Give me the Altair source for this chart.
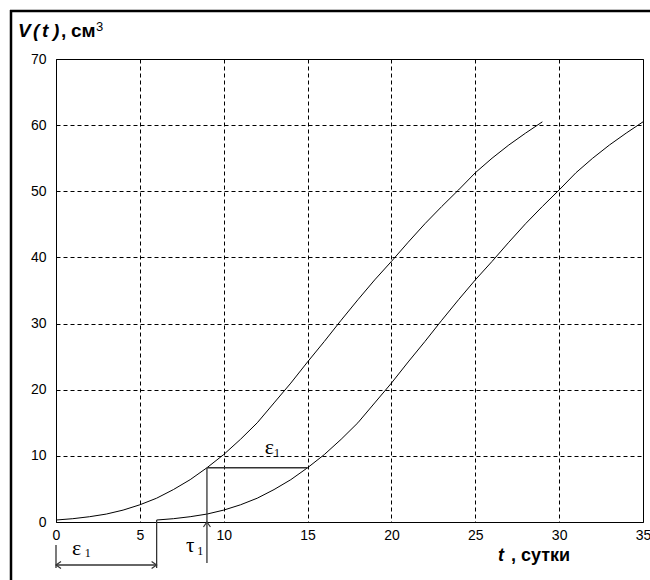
import altair as alt
import pandas as pd

# ---------------- data ----------------
t1 = list(range(0, 30))
v1 = [0.3, 0.5, 0.8, 1.2, 1.8, 2.6, 3.6, 4.9, 6.4, 8.2,
      10.2, 12.5, 15.0, 18.0, 21.0, 24.2, 27.3, 30.5, 33.6, 36.6,
      39.4, 42.3, 45.1, 47.7, 50.2, 52.8, 55.0, 57.0, 58.8, 60.5]
t2 = list(range(6, 36))
v2 = [0.3, 0.5, 0.8, 1.2, 1.8, 2.6, 3.6, 4.9, 6.4, 8.2,
      10.2, 12.5, 15.0, 18.0, 21.0, 24.2, 27.3, 30.5, 33.6, 36.6,
      39.4, 42.3, 45.1, 47.7, 50.2, 52.8, 55.0, 57.0, 58.8, 60.5]
x_ticks = [0, 5, 10, 15, 20, 25, 30, 35]
y_ticks = [0, 10, 20, 30, 40, 50, 60, 70]
eps = 6        # ε1 shift
tau = 9        # τ1
v_star = 8.2   # level of the ε1 segment

# ---------------- layout / style ----------------
W, H = 587, 463
SANS = "Liberation Sans"
SERIF = "Liberation Serif"
ANN = "#333333"

xs = alt.Scale(domain=[0, 35], nice=False, zero=False)
ys = alt.Scale(domain=[0, 70], nice=False, zero=False)

xaxis = alt.Axis(values=x_ticks, title=None, grid=True, gridColor="black",
                 gridDash=[4, 3], gridOpacity=1, gridWidth=1, ticks=False,
                 domain=False, labelFlush=False, labelFont=SANS,
                 labelFontSize=14, labelColor="black", labelPadding=6)
yaxis = alt.Axis(values=y_ticks, title=None, grid=True, gridColor="black",
                 gridDash=[4, 3], gridOpacity=1, gridWidth=1, ticks=False,
                 domain=False, labelFont=SANS, labelFontSize=14,
                 labelColor="black", labelPadding=10)


def X(field="t"):
    return alt.X(f"{field}:Q", scale=xs, axis=xaxis)


def Y(field="V"):
    return alt.Y(f"{field}:Q", scale=ys, axis=yaxis)


curves = pd.concat([
    pd.DataFrame({"t": t1, "V": v1, "c": "1"}),
    pd.DataFrame({"t": t2, "V": v2, "c": "2"}),
])

lines = alt.Chart(curves).mark_line(color="black", strokeWidth=1).encode(
    x=X(), y=Y(), detail="c:N")

# horizontal ε1 segment at the level v_star between tau and tau+eps
seg = alt.Chart(pd.DataFrame({"t": [tau], "t2": [tau + eps], "V": [v_star]})).mark_rule(
    color=ANN, strokeWidth=1.5).encode(x=X(), x2="t2:Q", y=Y())

# vertical line at tau down below the axis
vtau = alt.Chart(pd.DataFrame({"t": [tau], "V": [v_star]})).mark_rule(
    color=ANN, strokeWidth=1.3).encode(x=X(), y=Y(), y2=alt.value(504))

# vertical line at eps (start of second curve) down below the axis
veps = alt.Chart(pd.DataFrame({"t": [eps], "V": [v2[0]]})).mark_rule(
    color=ANN, strokeWidth=1.3).encode(x=X(), y=Y(), y2=alt.value(509))

# vertical line at 0 below the tick label
v0 = alt.Chart(pd.DataFrame({"t": [0]})).mark_rule(
    color=ANN, strokeWidth=1.3).encode(x=X(), y=alt.value(486), y2=alt.value(509))

# horizontal double arrow 0..eps
harrow = alt.Chart(pd.DataFrame({"t": [0], "t2": [eps]})).mark_rule(
    color=ANN, strokeWidth=1.3).encode(x=X(), x2="t2:Q", y=alt.value(506))

head_l = alt.Chart(pd.DataFrame({"t": [0]})).mark_point(
    shape="M1,-0.7L0,0L1,0.7", size=100, filled=False, color=ANN,
    strokeWidth=1.2, opacity=1).encode(x=X(), y=alt.value(506))
head_r = alt.Chart(pd.DataFrame({"t": [eps]})).mark_point(
    shape="M-1,-0.7L0,0L-1,0.7", size=100, filled=False, color=ANN,
    strokeWidth=1.2, opacity=1).encode(x=X(), y=alt.value(506))
head_u = alt.Chart(pd.DataFrame({"t": [tau], "V": [0]})).mark_point(
    shape="M-0.7,1L0,0L0.7,1", size=100, filled=False, color=ANN,
    strokeWidth=1.2, opacity=1).encode(x=X(), y=Y())


def txt_data(label, t, V=None, ypx=None, size=20, font=SERIF, style="normal",
             weight="normal"):
    d = {"t": [t], "label": [label]}
    enc = {"x": X(), "text": "label:N"}
    if V is not None:
        d["V"] = [V]
        enc["y"] = Y()
    else:
        enc["y"] = alt.value(ypx)
    return alt.Chart(pd.DataFrame(d)).mark_text(
        align="left", baseline="alphabetic", font=font, fontSize=size,
        fontStyle=style, fontWeight=weight, color="black").encode(**enc)


ann_text = [
    txt_data("ε", 12.45, V=10.3, size=22),
    txt_data("1", 13.0, V=9.8, size=12),
    txt_data("ε", 0.95, ypx=496, size=22),
    txt_data("1", 1.72, ypx=498, size=12),
    txt_data("τ", 7.75, ypx=493, size=21),
    txt_data("1", 8.42, ypx=496, size=12),
]


def txt_px(label, xpx, ypx, size=19, style="normal", weight="bold"):
    return alt.Chart(pd.DataFrame({"label": [label]})).mark_text(
        align="left", baseline="alphabetic", font=SANS, fontSize=size,
        fontStyle=style, fontWeight=weight, color="black").encode(
        x=alt.value(xpx), y=alt.value(ypx), text="label:N")


titles = [
    txt_px("V", -38, -22, style="italic"),
    txt_px("(", -23, -22, style="italic"),
    txt_px("t", -14, -22, style="italic"),
    txt_px(")", -3, -22, style="italic"),
    txt_px(",", 5, -22),
    txt_px("см", 15, -22),
    txt_px("3", 40, -28, size=13, weight="normal"),
    txt_px("t", 442, 502, size=18, style="italic"),
    txt_px(", сутки", 455, 502, size=18),
]

# outer frame (top and left edges visible in the crop)
frame_l = alt.Chart(pd.DataFrame({"a": [0]})).mark_rule(
    color="black", strokeWidth=2.5).encode(
    x=alt.value(-45), y=alt.value(-49), y2=alt.value(530))
frame_t = alt.Chart(pd.DataFrame({"a": [0]})).mark_rule(
    color="black", strokeWidth=2.5).encode(
    x=alt.value(-46), x2=alt.value(600), y=alt.value(-48))

chart = alt.layer(
    lines, seg, vtau, veps, v0, harrow, head_l, head_r, head_u,
    *ann_text, *titles, frame_l, frame_t
).properties(
    width=W, height=H, autosize="none",
    padding={"left": 56, "top": 59, "right": 7, "bottom": 58},
    background="white",
).configure_view(stroke="black", strokeWidth=1)

chart.save("out.html", embed_options={"renderer": "svg", "actions": False})
